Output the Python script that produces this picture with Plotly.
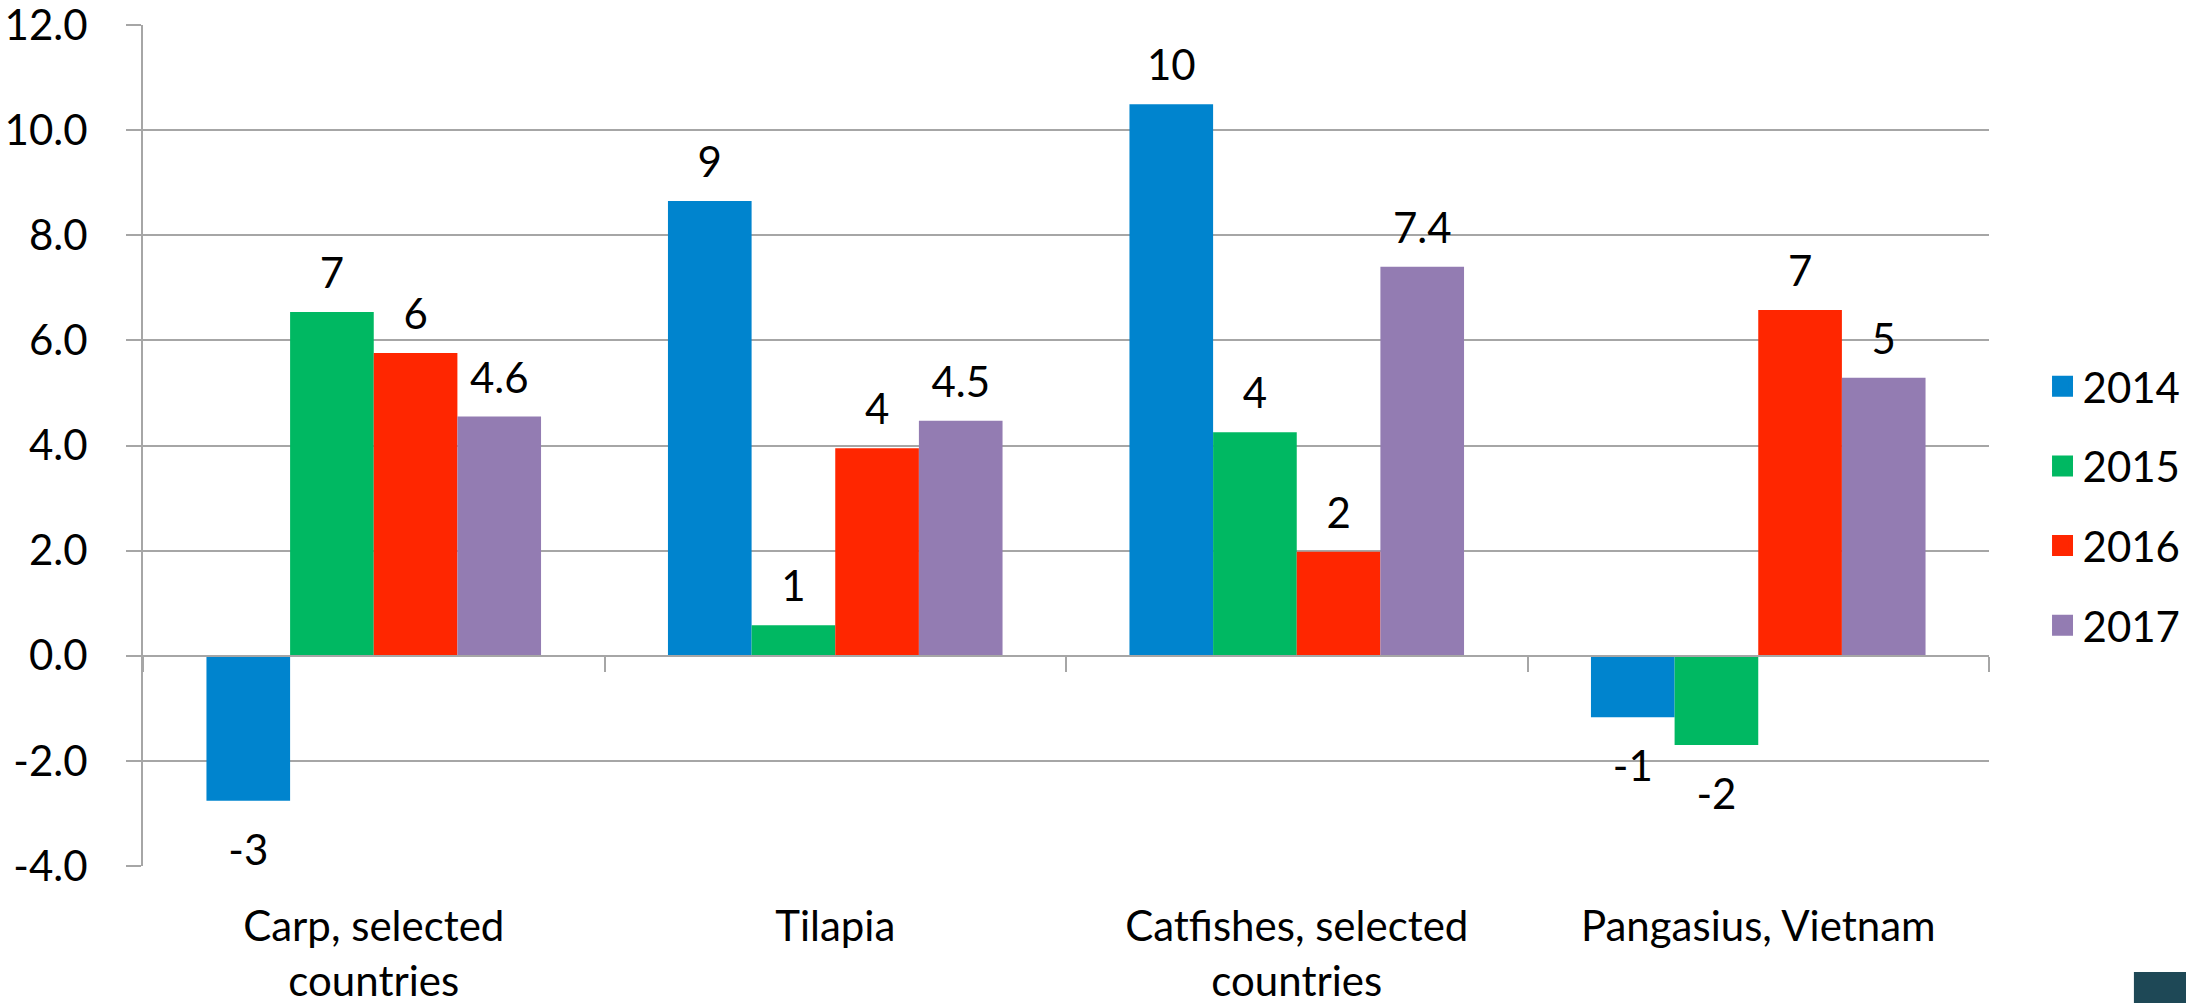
import plotly.graph_objects as go

categories = ["Carp, selected<br>countries", "Tilapia", "Catfishes, selected<br>countries", "Pangasius, Vietnam"]
years = ["2014", "2015", "2016", "2017"]

v2014 = [-2.76, 8.65, 10.49, -1.17]
v2015 = [6.54, 0.58, 4.25, -1.70]
v2016 = [5.76, 3.95, 1.98, 6.58]
v2017 = [4.55, 4.47, 7.40, 5.29]

lab2014 = ["-3", "9", "10", "-1"]
lab2015 = ["7", "1", "4", "-2"]
lab2016 = ["6", "4", "2", "7"]
lab2017 = ["4.6", "4.5", "7.4", "5"]

y_ticks = [-4, -2, 0, 2, 4, 6, 8, 10, 12]
y_tick_labels = ["-4.0", "-2.0", "0.0", "2.0", "4.0", "6.0", "8.0", "10.0", "12.0"]

colors = ["#0084CE", "#00B862", "#FF2600", "#937CB2"]
values = [v2014, v2015, v2016, v2017]
labels = [lab2014, lab2015, lab2016, lab2017]

FONT = "Lato"
FS = 42
GRID = "#A6A6A6"

fig = go.Figure()

# bars
for yr, vals, col in zip(years, values, colors):
    fig.add_trace(go.Bar(x=categories, y=vals, name=yr, marker=dict(color=col, line=dict(width=0)),
                         showlegend=False, xaxis="x", yaxis="y"))

# value labels (grouped scatter text aligned with bars)
for yr, vals, labs in zip(years, values, labels):
    pos = ["top center" if v >= 0 else "bottom center" for v in vals]
    sizes = [20 if v >= 0 else 50 for v in vals]
    fig.add_trace(go.Scatter(x=categories, y=vals, text=labs, mode="markers+text",
                             textposition=pos,
                             marker=dict(size=sizes, color="rgba(0,0,0,0)", line=dict(width=0)),
                             textfont=dict(family=FONT, size=FS, color="black"),
                             showlegend=False, hoverinfo="skip", cliponaxis=False,
                             xaxis="x", yaxis="y"))

# legend entries (also give the zero-line axis its categories)
for i, (yr, col) in enumerate(zip(years, colors)):
    fig.add_trace(go.Scatter(x=categories, y=[None] * len(categories), name=yr, mode="markers",
                             marker=dict(symbol="square", size=16, color=col, line=dict(width=5, color=col)),
                             legendgroup="g" + yr, showlegend=True, xaxis="x2", yaxis="y"))

fig.update_layout(
    width=2186, height=1003,
    template="none",
    paper_bgcolor="white", plot_bgcolor="white",
    margin=dict(l=143, r=197, t=25, b=137, autoexpand=False),
    barmode="group", bargap=0.275, bargroupgap=0,
    scattermode="group", scattergap=0.275,
    font=dict(family=FONT, size=FS, color="black"),
    xaxis=dict(type="category", range=[-0.5, 3.5], showgrid=False, showline=False, ticks="",
               zeroline=False, tickfont=dict(family=FONT, size=FS, color="black"),
               ticklabelstandoff=32, automargin=False, ticklabeloverflow="allow"),
    xaxis2=dict(type="category", overlaying="x", anchor="free", position=0.25, side="bottom",
                range=[-0.5, 3.5], showgrid=False, showline=True, linecolor=GRID, linewidth=2,
                ticks="outside", tickson="boundaries", ticklen=15, tickwidth=2, tickcolor=GRID,
                showticklabels=False, zeroline=False, automargin=False),
    yaxis=dict(range=[-4, 12], tickvals=y_ticks, ticktext=y_tick_labels, showgrid=True, gridcolor=GRID,
               gridwidth=2, showline=True, linecolor=GRID, linewidth=2, ticks="outside", ticklen=15,
               tickwidth=2, tickcolor=GRID, zeroline=False, domain=[0, 1], automargin=False,
               ticklabeloverflow="allow",
               tickfont=dict(family=FONT, size=FS, color="black"), ticklabelstandoff=30),
    legend=dict(x=1.029, xanchor="left", y=0.428, yanchor="middle", tracegroupgap=22,
                font=dict(family=FONT, size=FS, color="black"), bgcolor="rgba(0,0,0,0)"),
    shapes=[dict(type="rect", xref="paper", yref="paper", x0=1.0785, x1=1.12, y0=-0.17, y1=-0.126,
                 fillcolor="#1E4856", line=dict(width=0), layer="above")],
    showlegend=True,
)

fig.write_html("out.html", config={"displayModeBar": False},
               post_script="document.body.style.margin='0';document.body.style.overflow='hidden';")
